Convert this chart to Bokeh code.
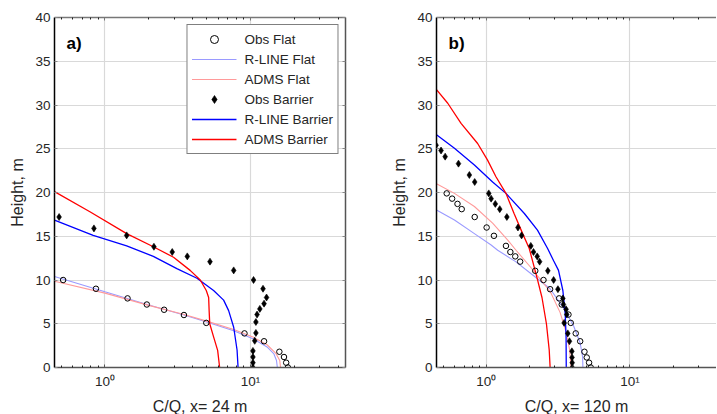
from bokeh.plotting import figure
from bokeh.models import (Range1d, FixedTicker, LogAxis, LinearAxis, Legend, LegendItem,
                          Label, CustomJSTickFormatter)
from bokeh.layouts import row
from bokeh.embed import file_html
from bokeh.resources import INLINE

# ---------------- data ----------------
X_MAJOR = [1, 10]
X_MINOR = [0.5, 0.6, 0.7, 0.8, 0.9, 2, 3, 4, 5, 6, 7, 8, 9, 20, 30, 40]
Y_TICKS = [0, 5, 10, 15, 20, 25, 30, 35, 40]

# panel a (x = 24 m)
A_OBS_FLAT_X = [0.516, 0.867, 1.43, 1.94, 2.55, 3.49, 4.97, 9.1, 12.4, 15.8, 17.0, 17.6, 18.1]
A_OBS_FLAT_H = [10.0, 9.0, 7.9, 7.2, 6.6, 6.0, 5.1, 3.9, 3.0, 1.8, 1.2, 0.55, 0.0]
A_OBS_BAR_X = [0.484, 0.84, 1.41, 2.17, 2.90, 3.68, 5.27, 7.67, 10.5, 12.2, 12.9, 12.4, 11.6,
               11.1, 10.9, 10.9, 10.7, 10.4, 10.4, 10.4, 10.4]
A_OBS_BAR_H = [17.2, 15.9, 15.1, 13.8, 13.2, 12.7, 12.1, 11.1, 10.0, 9.0, 8.0, 7.3, 6.7,
               6.05, 5.2, 3.95, 3.05, 1.9, 1.2, 0.55, 0.0]
A_RL_FLAT_X = [0.45, 1.0, 2.0, 3.5, 5.0, 7.67, 10.5, 13.0, 14.5, 15.1, 15.3]
A_RL_FLAT_H = [10.4, 8.65, 7.15, 6.0, 5.2, 4.2, 3.25, 2.35, 1.55, 0.8, 0.0]
A_AD_FLAT_X = [0.45, 1.0, 2.0, 3.5, 5.0, 7.67, 10.5, 13.0, 14.9, 15.9, 16.1]
A_AD_FLAT_H = [9.85, 8.5, 7.1, 6.05, 5.3, 4.35, 3.45, 2.6, 1.65, 0.8, 0.0]
A_RL_BAR_X = [0.45, 0.83, 1.41, 2.15, 3.12, 4.29, 5.58, 6.54, 7.08, 7.67, 8.09, 8.22]
A_RL_BAR_H = [16.85, 15.1, 13.9, 12.7, 11.3, 10.2, 8.8, 7.7, 6.5, 4.6, 2.0, 0.0]
A_AD_BAR_X = [0.45, 0.788, 1.41, 2.15, 2.96, 3.85, 4.52, 4.97, 5.16, 5.2, 5.25, 5.58, 5.95, 6.14]
A_AD_BAR_H = [20.1, 17.8, 15.3, 13.8, 12.6, 11.1, 10.0, 8.8, 8.0, 6.5, 5.0, 3.5, 1.95, 0.0]

# panel b (x = 120 m)
B_OBS_BAR_X = [0.447, 0.484, 0.517, 0.64, 0.762, 0.83, 1.04, 1.08, 1.155, 1.24, 1.39, 1.66, 1.76,
               2.04, 2.13, 2.26, 2.35, 2.68, 2.94, 3.15, 3.41, 3.44, 3.59, 3.63, 3.48, 3.69, 3.79,
               3.94, 3.95, 3.96, 3.96]
B_OBS_BAR_H = [25.4, 24.8, 24.1, 23.3, 22.0, 21.2, 19.9, 19.3, 18.7, 18.1, 17.2, 16.0, 15.1,
               13.9, 13.2, 12.7, 12.1, 11.05, 10.0, 8.95, 7.9, 7.2, 6.65, 6.05, 5.1, 3.9, 3.0,
               1.85, 1.15, 0.55, 0.0]
B_OBS_FLAT_X = [0.53, 0.578, 0.63, 0.674, 0.83, 1.005, 1.13, 1.37, 1.47, 1.59, 1.72, 2.19, 2.50,
                2.78, 3.21, 3.35, 3.73, 3.87, 4.19, 4.50, 4.82, 5.0, 5.19, 5.33]
B_OBS_FLAT_H = [19.9, 19.3, 18.7, 18.1, 17.2, 16.0, 15.05, 13.9, 13.2, 12.7, 12.1, 11.05, 10.0,
                8.95, 7.9, 7.2, 6.05, 5.1, 3.9, 3.0, 1.8, 1.15, 0.55, 0.0]
B_RL_FLAT_X = [0.45, 0.6, 0.826, 1.08, 1.2, 1.6, 2.02, 2.78, 3.44, 4.04, 4.5, 4.68, 4.7]
B_RL_FLAT_H = [18.0, 16.85, 15.3, 14.0, 13.4, 12.1, 10.8, 9.0, 6.8, 4.8, 2.8, 1.2, 0.0]
B_AD_FLAT_X = [0.45, 0.6, 0.826, 1.106, 1.41, 1.61, 2.0, 2.4, 2.8, 3.26, 3.6, 3.8, 3.89]
B_AD_FLAT_H = [21.0, 19.9, 18.4, 16.5, 14.55, 13.4, 11.6, 10.0, 8.6, 6.3, 4.0, 2.0, 0.0]
B_RL_BAR_X = [0.45, 0.6, 0.826, 1.106, 1.37, 1.84, 2.27, 2.67, 2.94, 3.18, 3.41, 3.54, 3.59, 3.6]
B_RL_BAR_H = [26.6, 25.06, 23.15, 21.2, 19.9, 17.6, 15.7, 13.6, 12.2, 11.1, 8.8, 6.15, 3.5, 0.0]
B_AD_BAR_X = [0.45, 0.539, 0.667, 0.87, 1.02, 1.167, 1.37, 1.56, 1.79, 1.99, 2.25, 2.44, 2.62,
              2.74, 2.78]
B_AD_BAR_H = [31.75, 30.2, 27.9, 25.6, 23.7, 21.8, 19.9, 17.6, 15.3, 13.6, 10.3, 8.0, 5.0, 2.0, 0.0]

X_LABELS = ["C/Q, x= 24 m", "C/Q, x= 120 m"]
PANEL_TAGS = ["a)", "b)"]
LEGEND_LABELS = ["Obs Flat", "R-LINE Flat", "ADMS Flat", "Obs Barrier", "R-LINE Barrier", "ADMS Barrier"]

FONT = "Liberation Sans"
C_RL_FLAT = "#9a9aff"
C_AD_FLAT = "#ff9a9a"
C_RL_BAR = "#0000ff"
C_AD_BAR = "#ff0000"
TXT = "#262626"

SUP = CustomJSTickFormatter(code="""
const s = {"-1": "\u207b\u00b9", "0": "\u2070", "1": "\u00b9", "2": "\u00b2"};
return "10" + s[String(Math.round(Math.log10(tick)))];
""")
BLANK = CustomJSTickFormatter(code='return "";')


def make_panel(xend, fw, left, right, data, xlabel, tag, legend, right_axis):
    p = figure(frame_width=fw, frame_height=350, x_axis_type="log",
               x_range=Range1d(0.45, xend), y_range=Range1d(0, 40),
               output_backend="svg", toolbar_location=None,
               min_border_left=left, min_border_right=right,
               min_border_top=17, min_border_bottom=46)
    p.outline_line_color = None
    p.background_fill_color = "white"
    p.border_fill_color = "white"

    xt = FixedTicker(ticks=X_MAJOR, minor_ticks=X_MINOR)
    yt = FixedTicker(ticks=Y_TICKS)

    xa = p.xaxis[0]
    xa.ticker = xt
    xa.formatter = SUP
    xa.axis_label = xlabel
    ya = p.yaxis[0]
    ya.ticker = yt
    ya.axis_label = "Height, m"

    for ax in (xa, ya):
        ax.axis_label_text_font = FONT
        ax.axis_label_text_font_size = "16px"
        ax.axis_label_text_font_style = "normal"
        ax.axis_label_text_color = TXT
        ax.major_label_text_font = FONT
        ax.major_label_text_font_size = "13.5px"
        ax.major_label_text_color = TXT
        ax.major_tick_in = 3
        ax.major_tick_out = 0
        ax.minor_tick_in = 2
        ax.minor_tick_out = 0
        ax.axis_label_standoff = 6
    xa.major_label_standoff = 6
    ya.major_label_standoff = 4
    xa.axis_line_color = "#555555"
    xa.axis_line_width = 1.5
    xa.major_tick_line_color = "#555555"
    xa.minor_tick_line_color = "#222222"
    ya.axis_line_color = "black"
    ya.axis_line_width = 1.5
    ya.major_tick_line_color = "#888888"
    ya.minor_tick_line_color = None

    top = LogAxis(ticker=xt, formatter=BLANK, major_tick_in=3, major_tick_out=0,
                  minor_tick_in=2, minor_tick_out=0, major_label_standoff=0,
                  major_label_text_font_size="1px",
                  axis_line_color="#777777", axis_line_width=1.5,
                  major_tick_line_color="#777777", minor_tick_line_color="#222222")
    p.add_layout(top, "above")
    if right_axis:
        r = LinearAxis(ticker=yt, formatter=BLANK, major_tick_in=3, major_tick_out=0,
                       minor_tick_line_color=None, major_label_standoff=0,
                       major_label_text_font_size="1px",
                       axis_line_color="#555555", axis_line_width=1.5,
                       major_tick_line_color="#888888")
        p.add_layout(r, "right")

    p.xgrid.ticker = xt
    p.ygrid.ticker = yt
    for g in (p.xgrid[0], p.ygrid[0]):
        g.grid_line_color = "#d9d9d9"
        g.grid_line_width = 1.2

    (ofx, ofh, obx, obh, rfx, rfh, afx, afh, rbx, rbh, abx, abh) = data
    r_rf = p.line(rfx, rfh, line_color=C_RL_FLAT, line_width=1.1)
    r_af = p.line(afx, afh, line_color=C_AD_FLAT, line_width=1.1)
    r_rb = p.line(rbx, rbh, line_color=C_RL_BAR, line_width=1.3)
    r_ab = p.line(abx, abh, line_color=C_AD_BAR, line_width=1.3)
    r_of = p.scatter(ofx, ofh, marker="circle", size=5.5, fill_color=None,
                     line_color="black", line_width=1)
    r_ob = p.scatter(obx, obh, marker="diamond", size=7, fill_color="black",
                     line_color="black", line_width=0.6)

    p.add_layout(Label(x=12, y=324, x_units="screen", y_units="screen", text=tag,
                       text_font=FONT, text_font_size="17px", text_font_style="bold",
                       text_color="black", text_baseline="alphabetic"))

    if legend:
        items = [LegendItem(label=LEGEND_LABELS[0], renderers=[r_of]),
                 LegendItem(label=LEGEND_LABELS[1], renderers=[r_rf]),
                 LegendItem(label=LEGEND_LABELS[2], renderers=[r_af]),
                 LegendItem(label=LEGEND_LABELS[3], renderers=[r_ob]),
                 LegendItem(label=LEGEND_LABELS[4], renderers=[r_rb]),
                 LegendItem(label=LEGEND_LABELS[5], renderers=[r_ab])]
        lg = Legend(items=items, location="top_right", margin=7, padding=4, spacing=0,
                    glyph_width=45, glyph_height=20, label_height=20, label_standoff=8,
                    label_text_font=FONT, label_text_font_size="13.5px",
                    label_text_color=TXT, border_line_color="black",
                    border_line_width=1, background_fill_color="white",
                    background_fill_alpha=1.0)
        p.add_layout(lg, "center")
    return p


pa = make_panel(45, 291, 54, 43,
                (A_OBS_FLAT_X, A_OBS_FLAT_H, A_OBS_BAR_X, A_OBS_BAR_H,
                 A_RL_FLAT_X, A_RL_FLAT_H, A_AD_FLAT_X, A_AD_FLAT_H,
                 A_RL_BAR_X, A_RL_BAR_H, A_AD_BAR_X, A_AD_BAR_H),
                X_LABELS[0], PANEL_TAGS[0], True, True)
pb = make_panel(40, 280, 48, 0,
                (B_OBS_FLAT_X, B_OBS_FLAT_H, B_OBS_BAR_X, B_OBS_BAR_H,
                 B_RL_FLAT_X, B_RL_FLAT_H, B_AD_FLAT_X, B_AD_FLAT_H,
                 B_RL_BAR_X, B_RL_BAR_H, B_AD_BAR_X, B_AD_BAR_H),
                X_LABELS[1], PANEL_TAGS[1], False, False)

layout = row(pa, pb)
open("out.html", "w").write(file_html(layout, INLINE))
